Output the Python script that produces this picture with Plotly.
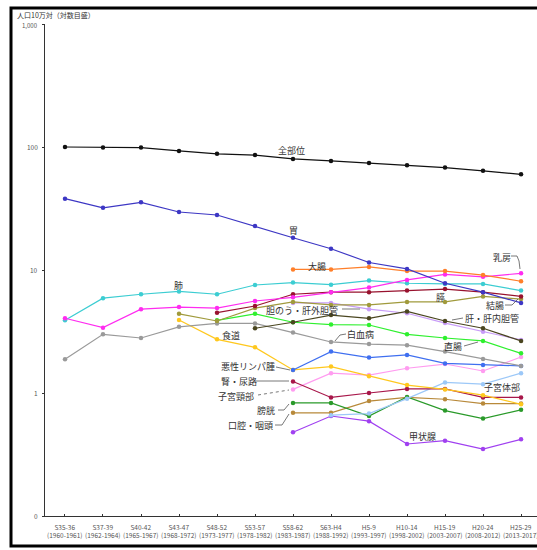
import plotly.graph_objects as go

periods = ["S35-36", "S37-39", "S40-42", "S43-47", "S48-52", "S53-57", "S58-62",
           "S63-H4", "H5-9", "H10-14", "H15-19", "H20-24", "H25-29"]
years = ["(1960-1961)", "(1962-1964)", "(1965-1967)", "(1968-1972)", "(1973-1977)",
         "(1978-1982)", "(1983-1987)", "(1988-1992)", "(1993-1997)", "(1998-2002)",
         "(2003-2007)", "(2008-2012)", "(2013-2017)"]
y_ticks = [0.1, 1, 10, 100, 1000]
y_tick_text = ["0", "1", "10", "100", "1,000"]

N = None
all_sites = [100, 99, 99, 93, 88, 86, 80, 77, 74, 71, 68, 64, 60]
stomach = [38, 32, 35.5, 29.6, 28, 22.8, 18.3, 14.9, 11.5, 10.2, 7.8, 6.6, 5.4]
large_intestine = [N, N, N, N, N, N, 10.1, 10.1, 10.6, 9.8, 9.8, 9.1, 8.1]
breast = [4.05, 3.4, 4.8, 5.0, 4.9, 5.6, 6.0, 6.6, 7.2, 8.3, 9.2, 8.8, 9.4]
lung = [3.9, 5.9, 6.35, 6.7, 6.35, 7.55, 7.9, 7.6, 8.2, 7.8, 7.7, 7.7, 6.8]
colon = [N, N, N, N, 4.5, 5.1, 6.35, 6.6, 6.6, 6.8, 7.0, 6.6, 6.1]
pancreas = [N, N, N, 4.4, 3.85, 4.9, 5.5, 5.2, 5.2, 5.5, 5.5, 6.1, 5.8]
gallbladder = [N, N, N, N, N, N, 5.4, 5.4, 4.8, 4.45, 3.7, 3.15, 2.7]
liver = [N, N, N, N, N, 3.36, 3.76, 4.3, 4.05, 4.6, 3.85, 3.36, 2.65]
rectum = [N, N, N, N, 3.9, 4.4, 3.76, 3.6, 3.57, 3.0, 2.8, 2.65, 2.1]
leukemia = [1.88, 3.0, 2.8, 3.45, 3.68, 3.68, 3.1, 2.6, 2.5, 2.45, 2.17, 1.89, 1.66]
lymphoma = [N, N, N, N, N, N, 1.54, 2.17, 1.94, 2.04, 1.74, 1.69, 1.66]
esophagus = [N, N, N, 3.92, 2.73, 2.35, 1.54, 1.64, 1.37, 1.16, 1.07, 0.96, 0.81]
kidney = [N, N, N, N, N, N, 1.24, 0.92, 1.0, 1.08, 1.08, 0.92, 0.92]
cervix = [N, N, N, N, N, N, 1.07, 1.45, 1.40, 1.59, 1.72, 1.51, 1.96]
uterine_body = [N, N, N, N, N, N, N, 0.66, 0.68, 0.9, 1.22, 1.18, 1.45]
bladder = [N, N, N, N, N, N, 0.83, 0.83, 0.65, 0.93, 0.72, 0.62, 0.73]
oral = [N, N, N, N, N, N, 0.69, 0.69, 0.86, 0.92, 0.89, 0.82, 0.82]
thyroid = [N, N, N, N, N, N, 0.48, 0.65, 0.59, 0.385, 0.41, 0.35, 0.42]

series = [
    ("口腔・咽頭", oral, "#b8893a"),
    ("膀胱", bladder, "#2a9a2a"),
    ("甲状腺", thyroid, "#a040f0"),
    ("子宮体部", uterine_body, "#9cc8f8"),
    ("子宮頸部", cervix, "#ff9cf0"),
    ("腎・尿路", kidney, "#a8174a"),
    ("食道", esophagus, "#ffc81e"),
    ("悪性リンパ腫", lymphoma, "#3f6ff0"),
    ("白血病", leukemia, "#9a9a9a"),
    ("直腸", rectum, "#2ef02e"),
    ("胆のう・肝外胆管", gallbladder, "#c89cf8"),
    ("肝・肝内胆管", liver, "#4a4620"),
    ("膵", pancreas, "#a09a3c"),
    ("結腸", colon, "#98122e"),
    ("肺", lung, "#3ccdd2"),
    ("乳房", breast, "#ff2cf0"),
    ("大腸", large_intestine, "#ff7f2a"),
    ("胃", stomach, "#3d37c4"),
    ("全部位", all_sites, "#111111"),
]

W, H = 537, 550
L, T, B = 45, 24, 34
PW, PH = W - L, H - T - B


def px(x, y):
    """pixel position -> paper coordinates"""
    return (x - L) / PW, (H - B - y) / PH


fig = go.Figure()
xs = list(range(len(periods)))
for name, vals, col in series:
    fig.add_trace(go.Scatter(
        x=xs, y=vals, name=name, mode="lines+markers",
        line=dict(color=col, width=1.2),
        marker=dict(color=col, size=4.5),
        connectgaps=False, showlegend=False,
    ))

font = "Noto Sans CJK JP, sans-serif"

labels = [
    ("全部位", 291, 150),
    ("胃", 293, 230),
    ("大腸", 317, 266),
    ("乳房", 502, 257),
    ("肺", 178, 285),
    ("膵", 440, 297),
    ("結腸", 495, 305),
    ("肝・肝内胆管", 492, 318),
    ("直腸", 453, 346),
    ("白血病", 360, 334),
    ("胆のう・肝外胆管", 302, 310),
    ("食道", 231, 335),
    ("悪性リンパ腫", 248, 366),
    ("腎・尿路", 239, 381),
    ("子宮頸部", 236, 396),
    ("膀胱", 266, 410),
    ("口腔・咽頭", 250, 425),
    ("甲状腺", 422, 436),
    ("子宮体部", 502, 387),
]
annotations = []
for text, x, y in labels:
    ax, ay = px(x, y)
    annotations.append(dict(text=text, x=ax, y=ay, xref="paper", yref="paper",
                            showarrow=False, xanchor="center", yanchor="middle",
                            font=dict(family=font, size=9, color="#333333")))

tx, ty = px(15, 15)
annotations.append(dict(text="人口10万対（対数目盛）", x=tx, y=ty, xref="paper", yref="paper",
                        showarrow=False, xanchor="left", yanchor="middle",
                        font=dict(family=font, size=7, color="#333333")))

# y tick labels as text, the top one tucked just under the unit caption
for v, t in zip(y_ticks, y_tick_text):
    ax, ay = px(40, 516)
    annotations.append(dict(text=t, x=ax, y=v if v < 1000 else None, xref="paper",
                            yref="y", showarrow=False, xanchor="right", yanchor="middle",
                            font=dict(family=font, size=6.5, color="#555555")))
annotations = [a for a in annotations if a.get("y") is not None]
ax, ay = px(40, 26)
annotations.append(dict(text=y_tick_text[-1], x=ax, y=ay, xref="paper", yref="paper",
                        showarrow=False, xanchor="right", yanchor="middle",
                        font=dict(family=font, size=6, color="#555555")))
for a in annotations:
    if a.get("yref") == "y":
        a["y"] = __import__("math").log10(a["y"])

# category labels along the x axis (drawn as text so the last one may run off the edge)
for i, (p, yr) in enumerate(zip(periods, years)):
    annotations.append(dict(text=f"{p}<br>{yr}", x=i, y=0, xref="x", yref="paper",
                            yshift=-4, showarrow=False, xanchor="center", yanchor="top",
                            font=dict(family=font, size=6.5, color="#555555")))

# leader lines from labels to their series
leaders = [
    [(511, 256), (517, 256), (519, 261), (520, 269)],
    [(505, 305), (512, 305), (518, 299)],
    [(452, 320), (463, 318)],
    [(464, 346), (478, 342)],
    [(335, 341), (340, 335), (346, 334)],
    [(342, 309), (360, 309)],
    [(276, 367), (290, 370)],
    [(255, 381), (289, 381)],
    [(278, 410), (284, 410), (289, 404)],
    [(275, 425), (282, 425), (289, 414)],
]
shapes = []
for pts in leaders:
    for (x0, y0), (x1, y1) in zip(pts[:-1], pts[1:]):
        a0, b0 = px(x0, y0)
        a1, b1 = px(x1, y1)
        shapes.append(dict(type="line", xref="paper", yref="paper", x0=a0, y0=b0,
                           x1=a1, y1=b1, line=dict(color="#555555", width=0.8)))
a0, b0 = px(258, 395)
a1, b1 = px(289, 390)
shapes.append(dict(type="line", xref="paper", yref="paper", x0=a0, y0=b0, x1=a1, y1=b1,
                   line=dict(color="#555555", width=0.8, dash="dot")))

# outer frame
fx0, fy0 = px(11, 546)
fx1, fy1 = px(560, 8)
shapes.append(dict(type="rect", xref="paper", yref="paper", x0=fx0, y0=fy0, x1=fx1, y1=fy1,
                   line=dict(color="#000000", width=3), layer="above"))

fig.update_layout(
    width=W, height=H,
    margin=dict(l=L, r=0, t=T, b=B),
    paper_bgcolor="white", plot_bgcolor="white",
    font=dict(family=font, color="#444444"),
    annotations=annotations, shapes=shapes,
    xaxis=dict(
        range=[-0.526, 12.42], tickvals=xs, showticklabels=False,
        showline=True, linecolor="#333333", linewidth=1,
        ticks="inside", ticklen=2, tickcolor="#333333",
        showgrid=False, zeroline=False, fixedrange=True,
    ),
    yaxis=dict(
        type="log", range=[-1, 3], tickvals=y_ticks, showticklabels=False,
        showline=True, linecolor="#333333", linewidth=1,
        ticks="outside", ticklen=2, tickcolor="#333333",
        showgrid=False, zeroline=False, fixedrange=True,
    ),
)

fig.write_html("out.html")
